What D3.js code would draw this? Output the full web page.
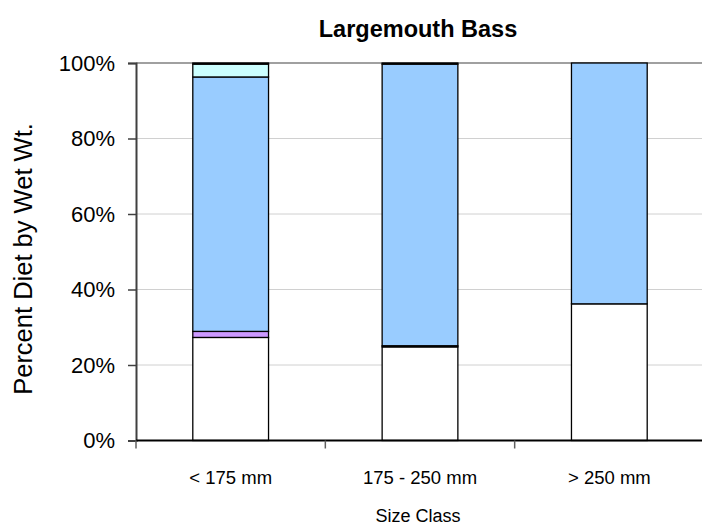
<!DOCTYPE html>
<html>
<head>
<meta charset="utf-8">
<script src="https://cdn.jsdelivr.net/npm/d3@7"></script>
<style>
  html, body { margin: 0; padding: 0; background: #fff; }
  svg { display: block; font-family: "Liberation Sans", Arial, sans-serif; }
</style>
</head>
<body>
<svg id="chart" width="702" height="529"></svg>
<script>
// Size classes along the x axis
const categories = ["< 175 mm", "175 - 250 mm", "> 250 mm"];
// Diet components, stacked bottom to top (percent of wet weight)
const seriesNames = ["Other", "Prey B", "Fish", "Prey C", "Prey D"];
const seriesColors = ["#FFFFFF", "#CC99FF", "#99CCFF", "#CCFFFF", "#FFFFFF"];
const otherVals = [27.3, 24.8, 36.2];
const preyBVals = [1.6, 0.3, 0.0];
const fishVals  = [67.4, 74.6, 63.8];
const preyCVals = [3.4, 0.3, 0.0];
const preyDVals = [0.3, 0.0, 0.0];
const yTicks = [0, 20, 40, 60, 80, 100];

const series = [otherVals, preyBVals, fishVals, preyCVals, preyDVals];

const svg = d3.select("#chart");
const plotLeft = 136, plotRight = 704, plotTop = 63, plotBottom = 440.5;

const x = d3.scaleBand().domain(categories).range([plotLeft, plotRight])
  .paddingInner(0.6).paddingOuter(0.3);
const y = d3.scaleLinear().domain([0, 100]).range([plotBottom, plotTop]);

// horizontal gridlines
svg.append("g").selectAll("line").data(yTicks.filter(d => d > 0)).join("line")
  .attr("x1", plotLeft).attr("x2", plotRight)
  .attr("y1", d => y(d)).attr("y2", d => y(d))
  .attr("stroke", d => d === 100 ? "#808080" : "#d0d0d0")
  .attr("stroke-width", d => d === 100 ? 1.5 : 1);

// stacked bars
const rows = categories.map((c, i) => {
  const r = { cat: c };
  seriesNames.forEach((s, j) => r[s] = series[j][i]);
  return r;
});
const stacked = d3.stack().keys(seriesNames)(rows);
stacked.forEach((layer, j) => {
  svg.append("g").selectAll("rect").data(layer.filter(d => d[1] - d[0] > 0)).join("rect")
    .attr("x", d => x(d.data.cat))
    .attr("width", x.bandwidth())
    .attr("y", d => y(d[1]))
    .attr("height", d => y(d[0]) - y(d[1]))
    .attr("fill", seriesColors[j])
    .attr("stroke", "#000")
    .attr("stroke-width", 1.3);
});

// y axis
const yAxis = d3.axisLeft(y).tickValues(yTicks).tickFormat(d => d + "%")
  .tickSize(8).tickPadding(13);
const gy = svg.append("g").attr("transform", `translate(${plotLeft},0)`).call(yAxis);
gy.select(".domain").attr("stroke", "#404040").attr("stroke-width", 2);
gy.selectAll(".tick line").attr("stroke", "#404040").attr("stroke-width", 1.5);
gy.selectAll("text").attr("font-size", 22).attr("fill", "#000")
  .attr("font-family", "Liberation Sans, Arial, sans-serif");

// x axis line with boundary ticks between categories
svg.append("line").attr("x1", plotLeft).attr("x2", plotRight)
  .attr("y1", plotBottom).attr("y2", plotBottom)
  .attr("stroke", "#000").attr("stroke-width", 2);
const step = x.step();
const bounds = d3.range(categories.length + 1).map(i => plotLeft + i * step);
svg.append("g").selectAll("line").data(bounds).join("line")
  .attr("x1", d => d).attr("x2", d => d)
  .attr("y1", plotBottom).attr("y2", plotBottom + 8)
  .attr("stroke", "#606060").attr("stroke-width", 1.5);

svg.append("g").selectAll("text").data(categories).join("text")
  .attr("x", d => x(d) + x.bandwidth() / 2)
  .attr("y", 484)
  .attr("text-anchor", "middle")
  .attr("font-size", 18.5)
  .text(d => d);

// titles
svg.append("text").attr("x", 418).attr("y", 37).attr("text-anchor", "middle")
  .attr("font-size", 23.5).attr("font-weight", "bold").text("Largemouth Bass");
svg.append("text").attr("x", 418).attr("y", 522).attr("text-anchor", "middle")
  .attr("font-size", 18).text("Size Class");
svg.append("text").attr("transform", "translate(32,259) rotate(-90)")
  .attr("text-anchor", "middle").attr("font-size", 25.5)
  .text("Percent Diet by Wet Wt.");
</script>
</body>
</html>
